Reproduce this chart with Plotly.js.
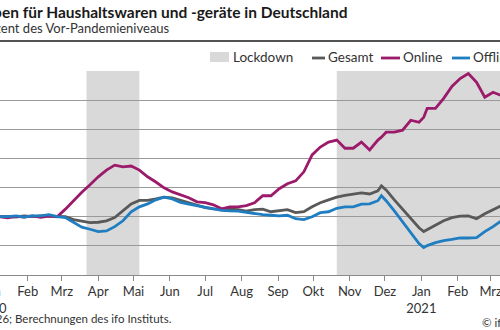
<!DOCTYPE html>
<html>
<head>
<meta charset="utf-8">
<script src="https://cdn.plot.ly/plotly-3.0.1.min.js"></script>
<style>
html,body{margin:0;padding:0;overflow:hidden;width:500px;height:330px;background:#fff;}
#chart{position:absolute;left:-61px;top:0;width:594px;height:330px;}
</style>
</head>
<body>
<div id="chart"></div>
<script>
// ---- data ----
const dates = ["2020-01-08","2020-01-15","2020-01-22","2020-01-29","2020-02-05","2020-02-12","2020-02-19","2020-02-26",
"2020-03-04","2020-03-11","2020-03-18","2020-03-25","2020-04-01","2020-04-08","2020-04-15","2020-04-22","2020-04-29",
"2020-05-06","2020-05-13","2020-05-20","2020-05-27","2020-06-03","2020-06-10","2020-06-17","2020-06-24",
"2020-07-01","2020-07-08","2020-07-15","2020-07-22","2020-07-29","2020-08-05","2020-08-12","2020-08-19","2020-08-26",
"2020-09-02","2020-09-09","2020-09-16","2020-09-23","2020-09-30","2020-10-07","2020-10-14","2020-10-21","2020-10-28",
"2020-11-04","2020-11-11","2020-11-18","2020-11-25","2020-11-28","2020-12-02","2020-12-09","2020-12-16","2020-12-23","2020-12-30",
"2021-01-03","2021-01-06","2021-01-13","2021-01-20","2021-01-27","2021-02-03","2021-02-10","2021-02-17","2021-02-24","2021-03-03","2021-03-10"];

const online = [100.0,99.6,100.1,99.9,100.3,99.8,100.2,100.0,
102.6,105.6,108.4,111.0,113.7,116.0,117.7,117.1,117.4,
116.0,113.7,111.9,109.9,108.5,107.5,106.5,105.1,
104.8,104.1,102.7,103.4,103.4,103.8,104.8,107.2,107.2,
109.6,111.3,112.3,115.4,121.2,123.9,125.6,126.3,123.5,
123.5,125.6,122.9,126.3,127.3,129.0,129.0,129.7,133.1,132.4,
134.1,137.2,137.2,140.6,144.7,147.4,149.1,146.1,141.0,142.7,141.6];

const gesamt = [100.0,100.1,99.9,100.3,100.0,100.3,100.2,100.2,
100.0,99.0,98.5,98.0,98.1,98.6,99.7,102.0,104.4,
105.6,105.6,106.1,106.7,106.5,105.6,104.8,103.8,
103.1,102.7,102.7,102.6,102.4,101.9,102.4,102.6,101.7,
102.0,102.4,101.4,101.7,103.4,104.8,105.8,106.7,107.3,
107.7,108.2,107.8,108.9,110.6,109.2,105.8,102.7,99.3,96.2,
94.9,95.6,97.1,98.6,99.7,100.2,100.3,99.3,101.0,102.4,103.8];

const offline = [100.0,100.0,100.3,99.9,100.3,100.3,100.7,100.0,
99.7,98.0,96.4,95.7,94.9,95.1,96.6,98.6,101.7,
103.4,104.4,105.8,106.7,106.1,104.9,104.3,103.8,
103.1,102.7,102.2,102.0,101.9,101.5,101.0,100.7,100.5,
100.3,100.5,99.3,99.0,100.0,101.4,101.7,102.9,103.4,
103.4,104.3,104.4,105.5,107.2,105.5,102.0,98.3,94.2,90.8,
89.4,90.1,91.1,91.8,92.2,92.7,92.7,92.8,94.9,96.6,98.6];

const lockdownStart = ["2020-03-22","2020-10-21"];
const lockdownEnd   = ["2020-05-06","2021-03-31"];

const tickDates = ["2020-01-01","2020-02-01","2020-03-01","2020-04-01","2020-05-01","2020-06-01","2020-07-01",
"2020-08-01","2020-09-01","2020-10-01","2020-11-01","2020-12-01","2021-01-01","2021-02-01","2021-03-01"];
const tickLabels = ["Jan<br>2020","Feb","Mrz","Apr","Mai","Jun","Jul","Aug","Sep","Okt","Nov","Dez","Jan<br>2021","Feb","Mrz"];

const seriesNames = ["Gesamt","Online","Offline"];
const lockdownName = "Lockdown";
const titleText = "Ausgaben für Haushaltswaren und -geräte in Deutschland";
const subtitleText = "in Prozent des Vor-Pandemieniveaus";
const sourceText = "l26; Berechnungen des ifo Instituts.";
const copyrightText = "© ifo Institut";

// ---- styling / layout ----
const colors = {Gesamt:"#595959", Online:"#9c1a6a", Offline:"#1f7dc1"};
const FONT = "Lato, 'Open Sans', sans-serif";
const ML = 50, MT = 71, MB = 55, PW = 524, PH = 204, SHIFT = 61;
const px = p => (p + SHIFT - ML) / PW;     // page x -> paper x
const py = p => (MT + PH - p) / PH;        // page y -> paper y

const seriesData = {Gesamt:gesamt, Online:online, Offline:offline};
const traces = seriesNames.map(n => ({
  type:"scatter", mode:"lines", x:dates, y:seriesData[n], name:n,
  line:{color:colors[n], width:2.8}, showlegend:false, hoverinfo:"skip"
}));

const shapes = lockdownStart.map((s,i)=>({
  type:"rect", xref:"x", yref:"paper", x0:s, x1:lockdownEnd[i], y0:0, y1:1,
  fillcolor:"#d9d9d9", line:{width:0}, layer:"below"
}));
// rule under the heading
shapes.push({type:"line", xref:"paper", yref:"paper", x0:px(-5), x1:px(505), y0:py(41), y1:py(41),
  line:{color:"#1a1a1a", width:1.6}});

// custom legend
const annotations = [];
shapes.push({type:"rect", xref:"paper", yref:"paper", x0:px(210), x1:px(229), y0:py(62), y1:py(52),
  fillcolor:"#d9d9d9", line:{width:0}});
annotations.push({xref:"paper", yref:"paper", x:px(231), y:py(57), xanchor:"left", yanchor:"middle",
  text:lockdownName, showarrow:false, font:{family:FONT, size:13.5, color:"#333"}});
const legPos = {Gesamt:[312,326], Online:[381,401], Offline:[452,471]};
seriesNames.forEach(n=>{
  const [a,b] = legPos[n];
  shapes.push({type:"line", xref:"paper", yref:"paper", x0:px(a), x1:px(b-1), y0:py(58), y1:py(58),
    line:{color:colors[n], width:2.8}});
  annotations.push({xref:"paper", yref:"paper", x:px(b), y:py(57), xanchor:"left", yanchor:"middle",
    text:n, showarrow:false, font:{family:FONT, size:13.5, color:"#333"}});
});

annotations.push({xref:"paper", yref:"paper", x:px(350), y:py(12), xanchor:"right", yanchor:"middle",
  text:"<b>"+titleText+"</b>", showarrow:false, font:{family:FONT, size:15.5, color:"#1a1a1a"}});
annotations.push({xref:"paper", yref:"paper", x:px(172), y:py(28), xanchor:"right", yanchor:"middle",
  text:subtitleText, showarrow:false, font:{family:FONT, size:13, color:"#333"}});
annotations.push({xref:"paper", yref:"paper", x:px(174), y:py(318), xanchor:"right", yanchor:"middle",
  text:sourceText, showarrow:false, font:{family:FONT, size:11.5, color:"#333"}});
annotations.push({xref:"paper", yref:"paper", x:px(480), y:py(322), xanchor:"left", yanchor:"middle",
  text:copyrightText, showarrow:false, font:{family:FONT, size:11.5, color:"#333"}});

const layout = {
  width:594, height:330,
  margin:{l:ML, r:594-ML-PW, t:MT, b:MB, pad:0},
  paper_bgcolor:"rgba(0,0,0,0)", plot_bgcolor:"rgba(0,0,0,0)",
  showlegend:false,
  font:{family:FONT, color:"#333"},
  xaxis:{type:"date", range:["2019-12-30","2021-03-20"], tickvals:tickDates, ticktext:tickLabels,
    ticks:"outside", ticklen:5, tickcolor:"#8a8a8a", showline:true, linecolor:"#8a8a8a", linewidth:1,
    showgrid:false, zeroline:false, tickfont:{family:FONT, size:13, color:"#333"}, ticklabelstandoff:-1},
  yaxis:{range:[80,150], dtick:10, tick0:80, showticklabels:false, ticks:"", showgrid:true,
    gridcolor:"#9a9a9a", gridwidth:1.2, zeroline:false, showline:false},
  shapes:shapes, annotations:annotations
};

Plotly.newPlot("chart", traces, layout, {staticPlot:true, displayModeBar:false});
</script>
</body>
</html>
